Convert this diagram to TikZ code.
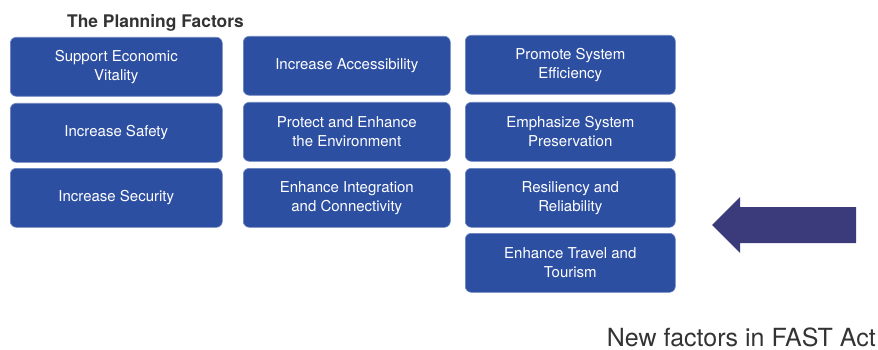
\documentclass[tikz,border=0pt]{standalone}
\usepackage{fontspec}
\setmainfont{TeX Gyre Heros}
\begin{document}
\begin{tikzpicture}[x=1pt,y=-1pt,
  factor/.style={fill=boxblue, draw=boxblue!70!white, line width=0.6pt, rounded corners=6pt, text=white,
    minimum width=210pt, minimum height=59pt, inner sep=0pt, align=center,
    font=\fontsize{15}{19}\selectfont, anchor=north west}]
\definecolor{boxblue}{HTML}{2D4FA2}
\definecolor{arrowblue}{HTML}{3B3B7C}
\definecolor{captiongray}{HTML}{333333}
\useasboundingbox (0,0) rectangle (878,350);
\node[font=\bfseries\fontsize{17.4}{19}\selectfont, text=captiongray, anchor=base west, inner sep=0pt] (title) at (67,28) {The Planning Factors};
% column 1
\node[factor, minimum width=212pt] (f1) at (10,37) {Support Economic\\Vitality};
\node[factor, minimum width=212pt] (f4) at (10,103) {Increase Safety};
\node[factor, minimum width=212pt] (f7) at (10,168) {Increase Security};
% column 2
\node[factor, minimum width=207pt] (f2) at (243,36) {Increase Accessibility};
\node[factor, minimum width=207pt] (f5) at (243,102) {Protect and Enhance\\the Environment};
\node[factor, minimum width=207pt] (f8) at (243,168) {Enhance Integration\\and Connectivity};
% column 3
\node[factor] (f3) at (465,35) {Promote System\\Efficiency};
\node[factor] (f6) at (465,102) {Emphasize System\\Preservation};
\node[factor] (f9) at (465,168) {Resiliency and\\Reliability};
\node[factor] (f10) at (465,233) {Enhance Travel and\\Tourism};
% arrow
\coordinate (tip) at (712,225);
\fill[arrowblue] (tip) -- (740,197) -- (740,207) -- (856,207) -- (856,243) -- (740,243) -- (740,253) -- cycle;
\node[font=\fontsize{25}{28}\selectfont, text=captiongray, anchor=base east, inner sep=0pt] (cap) at (876,346) {New factors in FAST Act};
\end{tikzpicture}
\end{document}
